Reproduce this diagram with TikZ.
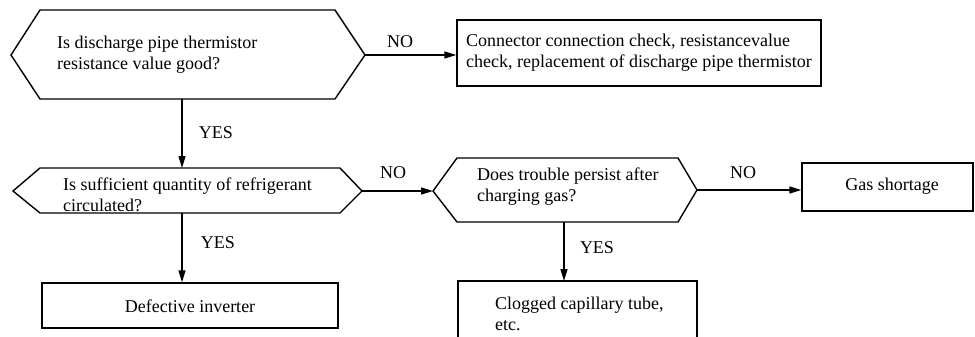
\documentclass[tikz,border=0pt]{standalone}
\usepackage{fontspec}
\setmainfont{Liberation Serif}
\usetikzlibrary{arrows.meta,calc}
\begin{document}
\begin{tikzpicture}[x=1pt,y=-1pt,
  outline/.style={line width=1.4pt, line join=miter},
  arr/.style={line width=1.4pt,-{Triangle[length=12pt,width=7pt]}},
  txt/.style={font=\fontsize{18}{21}\selectfont, inner sep=0pt, align=left},
  lbl/.style={font=\fontsize{18}{21}\selectfont, inner sep=0pt},
  ]
\useasboundingbox (0,0) rectangle (975,337);
% Hexagon 1
\coordinate (h1l) at (11,55);
\coordinate (h1r) at (365,55);
\coordinate (h1b) at (182,99);
\draw[outline] (h1l) -- (40,10) -- (335,10) -- (h1r) -- (335,99) -- (40,99) -- cycle;
\node[txt, anchor=west] (t1) at (57,54.5) {Is discharge pipe thermistor\\resistance value good?};
% Box 1
\node[draw, outline, minimum width=364pt, minimum height=66pt, inner sep=0pt] (b1) at (639,53) {};
\node[txt, anchor=west] (tb1) at (466,52.5) {Connector connection check, resistancevalue\\check, replacement of discharge pipe thermistor};
% Hexagon 2
\coordinate (h2l) at (13,191);
\coordinate (h2r) at (362,191);
\coordinate (h2t) at (182,168);
\coordinate (h2b) at (182,213);
\draw[outline] (h2l) -- (40,168) -- (340,168) -- (h2r) -- (340,213) -- (40,213) -- cycle;
\node[txt, anchor=west] (t2) at (63,195) {Is sufficient quantity of refrigerant\\circulated?};
% Hexagon 3
\coordinate (h3l) at (433,191);
\coordinate (h3r) at (697,190);
\coordinate (h3b) at (564,222);
\draw[outline] (h3l) -- (457,158) -- (678,158) -- (h3r) -- (678,222) -- (457,222) -- cycle;
\node[txt, anchor=west] (t3) at (477,187) {Does trouble persist after\\charging gas?};
% Box Gas shortage
\node[draw, outline, minimum width=171pt, minimum height=48pt, inner sep=0pt] (b2) at (887.5,187) {};
\node[txt] (tb2) at (892,186) {Gas shortage};
% Box Defective inverter
\node[draw, outline, minimum width=296pt, minimum height=45pt, inner sep=0pt] (b3) at (190,305.5) {};
\node[txt] (tb3) at (190,306) {Defective inverter};
% Box Clogged (open bottom)
\coordinate (b4t) at (564,281);
\draw[outline] (458,337) -- (458,281) -- (697,281) -- (697,337);
\node[txt, anchor=west] (tb4) at (495,314) {Clogged capillary tube,\\etc.};
% Connectors
\draw[arr] (h1r) -- (b1.west |- h1r);
\draw[arr] (h1b) -- (h2t);
\draw[arr] (h2r) -- (h3l);
\draw[arr] (h2b) -- (b3.north -| h2b);
\draw[arr] (h3r) -- (b2.west |- h3r);
\draw[arr] (h3b) -- (b4t);
% Labels
\node[lbl] (n1) at (400,42) {NO};
\node[lbl] (y1) at (216,133) {YES};
\node[lbl] (n2) at (393,173) {NO};
\node[lbl] (y2) at (218,243) {YES};
\node[lbl] (n3) at (743,173) {NO};
\node[lbl] (y3) at (597,248) {YES};
\end{tikzpicture}
\end{document}
